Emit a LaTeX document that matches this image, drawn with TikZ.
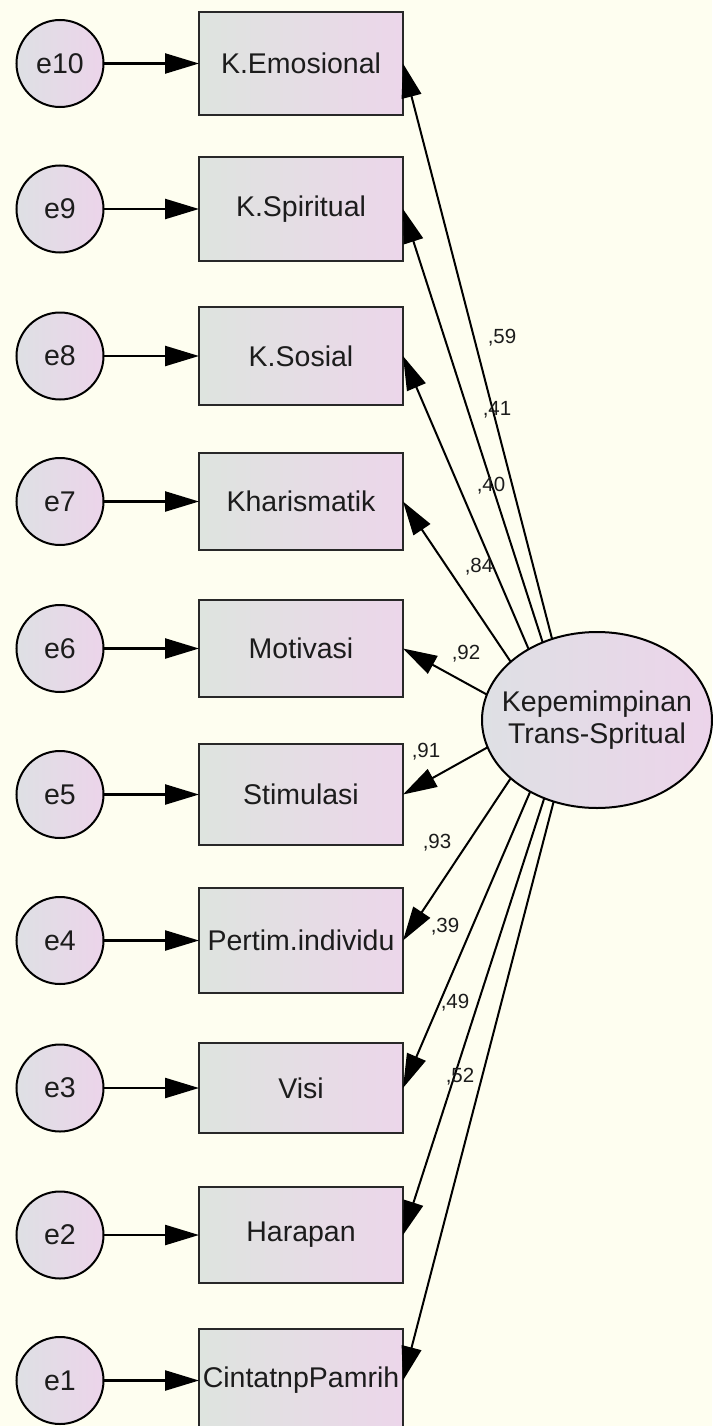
\documentclass[tikz,border=0pt]{standalone}
\usepackage{fontspec}
\setmainfont{Liberation Sans}
\usetikzlibrary{arrows.meta,shapes.geometric}

\definecolor{paper}{RGB}{254,254,240}
\definecolor{boxL}{RGB}{222,228,223}
\definecolor{boxR}{RGB}{236,214,234}
\definecolor{latL}{RGB}{222,224,228}
\definecolor{latR}{RGB}{236,212,234}
\definecolor{edge}{RGB}{40,40,40}
\definecolor{ink}{RGB}{28,28,28}

\tikzset{
  obs/.style={rectangle, draw=edge, line width=2.6pt, left color=boxL, right color=boxR,
    minimum width=204pt, inner sep=0pt, outer sep=0pt,
    font=\fontsize{28.5}{32}\selectfont, text=ink},
  resid/.style={circle, draw=black, line width=2pt, minimum size=87pt, inner sep=0pt,
    outer sep=0pt, left color=latL, right color=latR,
    font=\fontsize{28.5}{32}\selectfont, text=ink},
  latent/.style={ellipse, draw=black, line width=2pt, minimum width=230pt,
    minimum height=176pt, inner sep=0pt, outer sep=0pt,
    left color=latL, right color=latR},
  latenttext/.style={align=center, inner sep=0pt,
    font=\fontsize{28.5}{32}\selectfont, text=ink},
  errarrow/.style={-{Triangle[length=34pt,width=20pt]}, line width=2.4pt, draw=black},
  loadarrow/.style={-{Triangle[length=34pt,width=20pt]}, line width=2pt, draw=black},
  coef/.style={font=\fontsize{20.5}{22}\selectfont, text=ink, inner sep=0pt}
}

\begin{document}
\begin{tikzpicture}[x=1pt, y=-1pt]
  % canvas
  \fill[paper] (0,0) rectangle (712,1426);
  \useasboundingbox (0,0) rectangle (712,1426);

  % observed indicators
  \node[obs, minimum height=103pt] (b10) at (301,63.5)   {K.Emosional};
  \node[obs, minimum height=104pt] (b9)  at (301,209)    {K.Spiritual};
  \node[obs, minimum height=98pt]  (b8)  at (301,356)    {K.Sosial};
  \node[obs, minimum height=97pt]  (b7)  at (301,501.5)  {Kharismatik};
  \node[obs, minimum height=97pt]  (b6)  at (301,648.5)  {Motivasi};
  \node[obs, minimum height=101pt] (b5)  at (301,794.5)  {Stimulasi};
  \node[obs, minimum height=105pt] (b4)  at (301,940.5)  {Pertim.individu};
  \node[obs, minimum height=90pt]  (b3)  at (301,1088)   {Visi};
  \node[obs, minimum height=96pt]  (b2)  at (301,1235)   {Harapan};
  \node[obs, minimum height=103pt] (b1)  at (301,1380.5) {CintatnpPamrih};

  % error terms
  \node[resid] (e10) at (60,63.5)   {e10};
  \node[resid] (e9)  at (60,209)    {e9};
  \node[resid] (e8)  at (60,356)    {e8};
  \node[resid] (e7)  at (60,501.5)  {e7};
  \node[resid] (e6)  at (60,648.5)  {e6};
  \node[resid] (e5)  at (60,794.5)  {e5};
  \node[resid] (e4)  at (60,940.5)  {e4};
  \node[resid] (e3)  at (60,1088)   {e3};
  \node[resid] (e2)  at (60,1235)   {e2};
  \node[resid] (e1)  at (60,1380.5) {e1};

  % latent factor
  \node[latent] (F) at (597,720) {};
  \node[latenttext] (Ft) at (F.center) {Kepemimpinan\\Trans-Spritual};

  % error paths
  \foreach \i in {1,...,10} {
    \draw[errarrow] (e\i) -- (b\i);
  }

  % factor loadings
  \draw[loadarrow] (F.119.4) -- (b10.east);
  \draw[loadarrow] (F.125.8) -- (b9.east);
  \draw[loadarrow] (F.134.6) -- (b8.east);
  \draw[loadarrow] (F.146.0) -- (b7.east);
  \draw[loadarrow] (F.167.2) -- (b6.east);
  \draw[loadarrow] (F.194.3) -- (b5.east);
  \draw[loadarrow] (F.214.9) -- (b4.east);
  \draw[loadarrow] (F.227.4) -- (b3.east);
  \draw[loadarrow] (F.236.0) -- (b2.east);
  \draw[loadarrow] (F.242.1) -- (b1.east);

  % standardized estimates
  \node[coef] (c10) at (502,338)  {,59};
  \node[coef] (c9)  at (497,410)  {,41};
  \node[coef] (c8)  at (491,486)  {,40};
  \node[coef] (c7)  at (479,567)  {,84};
  \node[coef] (c6)  at (466,654)  {,92};
  \node[coef] (c5)  at (426,752)  {,91};
  \node[coef] (c4)  at (437,843)  {,93};
  \node[coef] (c3)  at (445,927)  {,39};
  \node[coef] (c2)  at (455,1003) {,49};
  \node[coef] (c1)  at (460,1077) {,52};
\end{tikzpicture}
\end{document}
